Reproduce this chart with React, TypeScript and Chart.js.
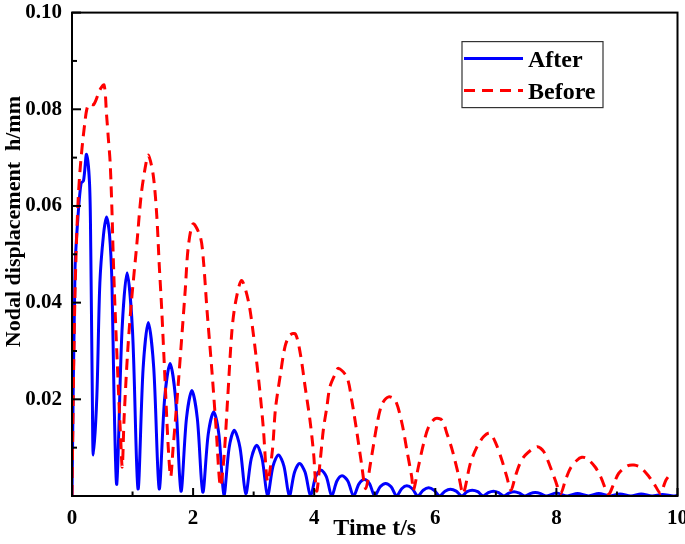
import { useEffect, useRef } from "react";
import { Chart, registerables } from "chart.js";

Chart.register(...registerables);

// ---- Data ----
const afterTime = [
  0, 0.05, 0.10, 0.15, 0.19, 0.24, 0.29, 0.31, 0.336, 0.352,
  0.41, 0.46, 0.52, 0.57, 0.62, 0.66, 0.694, 0.74,
  0.825, 0.91, 1.00, 1.09,
  1.175, 1.26, 1.35, 1.44,
  1.53, 1.62, 1.71, 1.80,
  1.89, 1.98, 2.07, 2.16,
  2.25, 2.34, 2.425, 2.51,
  2.595, 2.68, 2.775, 2.87,
  2.96, 3.05, 3.14, 3.23,
  3.32, 3.41, 3.50, 3.59,
  3.675, 3.76, 3.85, 3.94,
  4.025, 4.11, 4.20, 4.29,
  4.375, 4.46, 4.555, 4.65,
  4.74, 4.83, 4.915, 5.00,
  5.09, 5.18, 5.27, 5.36,
  5.445, 5.53, 5.62, 5.71,
  5.80, 5.89, 5.98, 6.07,
  6.16, 6.25, 6.345, 6.44,
  6.525, 6.61, 6.70, 6.79,
  6.875, 6.96, 7.045, 7.13,
  7.215, 7.30, 7.39, 7.48,
  7.565, 7.65, 7.74, 7.83,
  8.00, 8.18, 8.35, 8.53, 8.70, 8.88, 9.05, 9.23, 9.40, 9.58, 9.75, 9.93, 10.0,
];
const afterValue = [
  0, 0.047, 0.058, 0.0647, 0.0652, 0.0707, 0.0646, 0.051, 0.0205, 0.0085,
  0.0205, 0.044, 0.054, 0.0577, 0.054, 0.044, 0.0205, 0.0025,
  0.034, 0.0462, 0.034, 0.0015,
  0.0265, 0.0359, 0.0265, 0.0015,
  0.0202, 0.0274, 0.0202, 0.001,
  0.016, 0.0218, 0.016, 0.0008,
  0.0128, 0.0174, 0.0128, 0.0002,
  0.01, 0.0136, 0.01, 0.0005,
  0.0077, 0.0105, 0.0077, 0.0,
  0.0062, 0.0085, 0.0062, 0.0,
  0.0049, 0.0067, 0.0049, 0.0,
  0.004, 0.0054, 0.004, 0.0,
  0.0031, 0.0042, 0.0031, 0.0,
  0.0025, 0.0034, 0.0025, 0.0,
  0.0019, 0.0026, 0.0019, 0.0,
  0.0015, 0.0021, 0.0015, 0.0,
  0.0012, 0.0017, 0.0012, 0.0,
  0.001, 0.0014, 0.001, 0.0,
  0.0009, 0.0012, 0.0009, 0.0,
  0.0007, 0.001, 0.0007, 0.0,
  0.0006, 0.0009, 0.0006, 0.0,
  0.0005, 0.0007, 0.0005, 0.0,
  0.0006, 0.0, 0.0005, 0.0, 0.0005, 0.0, 0.0004, 0.0, 0.0004, 0.0, 0.0003, 0.0, 0.0001,
];

const beforeTime = [
  0, 0.02, 0.05, 0.09, 0.13, 0.21, 0.27, 0.36, 0.46, 0.53,
  0.57, 0.60, 0.63, 0.66, 0.68, 0.71, 0.77, 0.80, 0.83,
  0.86, 0.92, 0.98, 1.07, 1.14, 1.21, 1.26, 1.34, 1.40, 1.44, 1.48, 1.54, 1.59, 1.63,
  1.67, 1.71, 1.76, 1.87, 1.92, 2.00, 2.12, 2.17, 2.23, 2.31, 2.38, 2.45,
  2.51, 2.57, 2.64, 2.70, 2.80, 2.91, 3.00, 3.10, 3.16, 3.23,
  3.31, 3.36, 3.44, 3.52, 3.60, 3.69, 3.77, 3.85, 3.93, 3.99, 4.04,
  4.10, 4.15, 4.21, 4.26, 4.35, 4.40, 4.54, 4.62, 4.70, 4.78, 4.85,
  4.93, 5.04, 5.12, 5.23, 5.34, 5.45, 5.53, 5.61, 5.64,
  5.72, 5.81, 5.89, 6.00, 6.11, 6.19, 6.28, 6.39, 6.46,
  6.58, 6.69, 6.80, 6.90, 7.00, 7.10, 7.18, 7.25,
  7.32, 7.40, 7.49, 7.68, 7.79, 7.90, 7.98, 8.07,
  8.15, 8.23, 8.34, 8.42, 8.50, 8.64, 8.73, 8.86,
  8.95, 9.03, 9.17, 9.28, 9.39, 9.53, 9.61, 9.72,
  9.77, 9.81, 9.88,
];
const beforeValue = [
  0, 0.02, 0.042, 0.058, 0.067, 0.077, 0.081, 0.081, 0.084, 0.085,
  0.079, 0.074, 0.069, 0.059, 0.05, 0.039, 0.021, 0.013, 0.006,
  0.016, 0.03, 0.04, 0.052, 0.062, 0.068, 0.0705, 0.0665, 0.058, 0.048, 0.039, 0.023, 0.01, 0.004,
  0.01, 0.016, 0.024, 0.0426, 0.0515, 0.0563, 0.0536, 0.0488, 0.0384, 0.026, 0.014, 0.002,
  0.008, 0.02, 0.034, 0.04, 0.0446, 0.0405, 0.033, 0.022, 0.014, 0.003,
  0.0095, 0.018, 0.025, 0.031, 0.0333, 0.0335, 0.0295, 0.0226, 0.0157, 0.0088, 0.001,
  0.0074, 0.0136, 0.0185, 0.0226, 0.0253, 0.0264, 0.0246, 0.0198, 0.0136, 0.0068, 0.0015,
  0.0068, 0.015, 0.019, 0.0205, 0.0198, 0.015, 0.0095, 0.004, 0.0012,
  0.006, 0.011, 0.0143, 0.016, 0.0157, 0.013, 0.0095, 0.004, 0.0005,
  0.0068, 0.0102, 0.0123, 0.013, 0.0109, 0.0074, 0.004, 0.0012,
  0.004, 0.0068, 0.0085, 0.0102, 0.0092, 0.006, 0.0033, 0.0005,
  0.0033, 0.0057, 0.0074, 0.008, 0.0078, 0.006, 0.004, 0.0004,
  0.0026, 0.0047, 0.0062, 0.0064, 0.0059, 0.004, 0.0026, 0.0005,
  0.002, 0.0033, 0.0045,
];

const seriesNames = ["After", "Before"];
const xLabelValues = [0, 2, 4, 6, 8, 10];
const yLabelValues = [0.02, 0.04, 0.06, 0.08, 0.1];
const xTitle = "Time t/s";
const yTitle = "Nodal displacement  h/mm";

const FONT = "'Liberation Serif', 'Times New Roman', serif";

const isIn = (list: number[], v: number) => list.some((x) => Math.abs(x - v) < 1e-6);

const decorPlugin = {
  id: "decor",
  afterDraw(chart: any) {
    const { ctx, chartArea: a, scales } = chart;
    const xs = scales.x;
    const ys = scales.y;
    ctx.save();
    ctx.strokeStyle = "#000";
    ctx.lineWidth = 2;
    ctx.strokeRect(a.left, a.top, a.right - a.left, a.bottom - a.top);
    // inward tick marks
    xs.ticks.forEach((t: any) => {
      const px = xs.getPixelForValue(t.value);
      const len = isIn(xLabelValues, t.value) ? 8 : 4.5;
      ctx.beginPath();
      ctx.moveTo(px, a.bottom);
      ctx.lineTo(px, a.bottom - len);
      ctx.stroke();
    });
    ys.ticks.forEach((t: any) => {
      const py = ys.getPixelForValue(t.value);
      const len = isIn(yLabelValues, t.value) ? 9 : 5;
      ctx.beginPath();
      ctx.moveTo(a.left, py);
      ctx.lineTo(a.left + len, py);
      ctx.stroke();
    });
    // axis titles
    ctx.fillStyle = "#000";
    ctx.font = `bold 24px ${FONT}`;
    ctx.textAlign = "center";
    ctx.textBaseline = "alphabetic";
    ctx.fillText(xTitle, (a.left + a.right) / 2, a.bottom + 39);
    ctx.save();
    ctx.translate(a.left - 52, a.top + 209);
    ctx.rotate(-Math.PI / 2);
    ctx.font = `bold 22px ${FONT}`;
    ctx.fillText(yTitle, 0, 0);
    ctx.restore();
    // legend
    const ds = chart.data.datasets;
    const lx = a.left + 390;
    const ly = a.top + 29;
    ctx.lineWidth = 1.2;
    ctx.strokeStyle = "#333";
    ctx.strokeRect(lx, ly, 141, 66);
    const rows = [
      { d: ds.find((d: any) => d.label === seriesNames[0]), y: ly + 17, ty: ly + 25.5 },
      { d: ds.find((d: any) => d.label === seriesNames[1]), y: ly + 49, ty: ly + 57.5 },
    ];
    rows.forEach((r) => {
      ctx.save();
      ctx.strokeStyle = r.d.borderColor;
      ctx.lineWidth = r.d.borderWidth;
      ctx.setLineDash(r.d.borderDash || []);
      ctx.beginPath();
      ctx.moveTo(lx + 2, r.y);
      ctx.lineTo(lx + 61, r.y);
      ctx.stroke();
      ctx.restore();
      ctx.fillStyle = "#000";
      ctx.font = `bold 24px ${FONT}`;
      ctx.textAlign = "left";
      ctx.textBaseline = "alphabetic";
      ctx.fillText(r.d.label, lx + 66, r.ty);
    });
    ctx.restore();
  },
};

export default function App() {
  const ref = useRef<HTMLCanvasElement>(null);
  useEffect(() => {
    if (!ref.current) return;
    const chart = new Chart(ref.current, {
      type: "line",
      data: {
        datasets: [
          {
            label: seriesNames[1],
            data: beforeTime.map((t, i) => ({ x: t, y: beforeValue[i] })),
            borderColor: "#ff0000",
            borderWidth: 3,
            borderDash: [11, 7],
            pointRadius: 0,
            tension: 0.3,
            fill: false,
          },
          {
            label: seriesNames[0],
            data: afterTime.map((t, i) => ({ x: t, y: afterValue[i] })),
            borderColor: "#0000ff",
            borderWidth: 3,
            pointRadius: 0,
            tension: 0.3,
            fill: false,
          },
        ],
      },
      options: {
        animation: false,
        responsive: true,
        maintainAspectRatio: false,
        layout: { padding: { left: 0, top: 2, right: 5, bottom: 0 } },
        plugins: { legend: { display: false }, tooltip: { enabled: false } },
        scales: {
          x: {
            type: "linear",
            min: 0,
            max: 10,
            grid: { display: false, drawTicks: false },
            border: { display: false },
            ticks: {
              stepSize: 1,
              autoSkip: false,
              maxRotation: 0,
              padding: 10,
              color: "#000",
              font: { family: FONT, size: 21, weight: "bold" },
              callback: (v: any) => (isIn(xLabelValues, Number(v)) ? String(Math.round(Number(v))) : ""),
            },
            afterFit: (s: any) => {
              s.height = 48;
            },
          },
          y: {
            type: "linear",
            min: 0,
            max: 0.1,
            grid: { display: false, drawTicks: false },
            border: { display: false },
            ticks: {
              stepSize: 0.01,
              autoSkip: false,
              padding: 10,
              color: "#000",
              font: { family: FONT, size: 21, weight: "bold" },
              callback: (v: any) => (isIn(yLabelValues, Number(v)) ? Number(v).toFixed(2) : ""),
            },
            afterFit: (s: any) => {
              s.width = 72;
            },
          },
        },
      },
      plugins: [decorPlugin],
    } as any);
    return () => chart.destroy();
  }, []);
  return (
    <div style={{ position: "fixed", left: 0, top: -10, width: 698, height: 554, background: "#fff" }}>
      <canvas ref={ref} />
    </div>
  );
}
